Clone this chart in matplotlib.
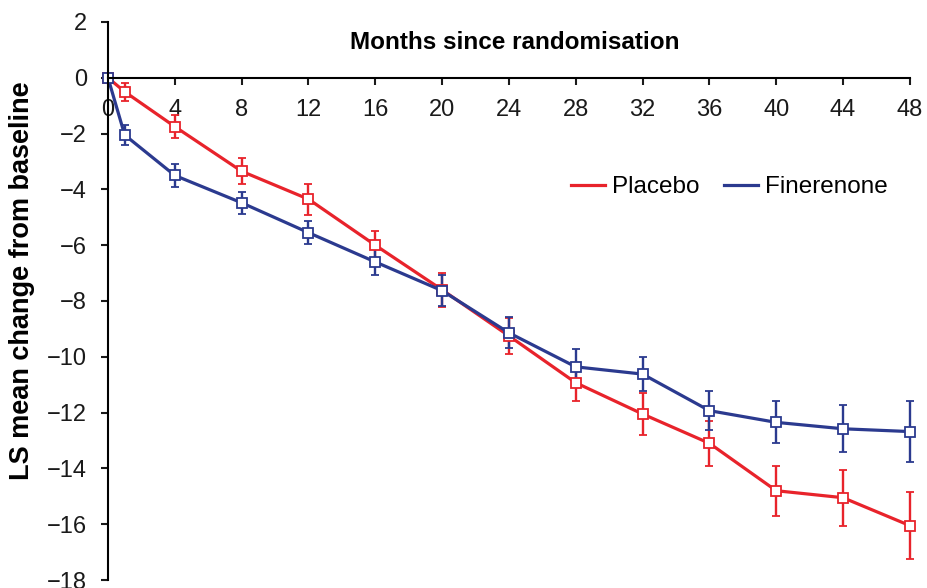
import matplotlib
import matplotlib.pyplot as plt
from matplotlib.lines import Line2D

matplotlib.use('Agg')

plt.rcParams['font.family'] = ['Liberation Sans', 'DejaVu Sans']

months = [0, 1, 4, 8, 12, 16, 20, 24, 28, 32, 36, 40, 44, 48]
placebo = [0, -0.5, -1.75, -3.35, -4.35, -6.0, -7.6, -9.25, -10.93, -12.05, -13.1, -14.8, -15.05, -16.05]
placebo_err = [0, 0.33, 0.4, 0.47, 0.55, 0.5, 0.6, 0.65, 0.65, 0.75, 0.8, 0.9, 1.0, 1.2]
finerenone = [0, -2.05, -3.5, -4.48, -5.55, -6.6, -7.63, -9.14, -10.36, -10.62, -11.93, -12.35, -12.58, -12.68]
finerenone_err = [0, 0.36, 0.4, 0.4, 0.42, 0.47, 0.55, 0.55, 0.65, 0.62, 0.7, 0.75, 0.85, 1.1]

RED = '#E8232B'
BLUE = '#2B3A8F'

fig = plt.figure(figsize=(9.27, 5.88), dpi=100)
ax = fig.add_axes([0.1165, 0.0136, 0.865, 0.949])

for values, errs, color in [(placebo, placebo_err, RED), (finerenone, finerenone_err, BLUE)]:
    bars = ax.errorbar(months, values, yerr=errs, color=color, linewidth=2.3,
                       elinewidth=1.7, capsize=3, capthick=1.7,
                       marker='s', markersize=7.5, markerfacecolor='white',
                       markeredgecolor=color, markeredgewidth=1.3)
    for artist in bars.get_children():
        artist.set_clip_on(False)

ax.set_xlim(0, 48)
ax.set_ylim(-18, 2)
ax.set_xticks(range(0, 49, 4))
ax.set_yticks(range(-18, 3, 2))
ax.spines['top'].set_visible(False)
ax.spines['right'].set_visible(False)
ax.spines['bottom'].set_position(('data', 0))
for side in ('left', 'bottom'):
    ax.spines[side].set_linewidth(1.5)
ax.tick_params(axis='both', labelsize=17, width=1.5, length=5, colors='#1a1a1a')
ax.tick_params(axis='x', pad=10)
ax.tick_params(axis='y', pad=10)

fig.text(0.555, 0.928, 'Months since randomisation', ha='center', va='center',
         fontsize=17.5, fontweight='bold')
fig.text(22 / 927, 1 - 281 / 588, 'LS mean change from baseline', ha='center', va='center',
         rotation=90, fontsize=19.5, fontweight='bold')

handles = [Line2D([], [], color=RED, linewidth=2.3), Line2D([], [], color=BLUE, linewidth=2.3)]
ax.legend(handles, ['Placebo', 'Finerenone'], loc='center', bbox_to_anchor=(0.775, 0.704), ncol=2,
          frameon=False, fontsize=17.5, handlelength=1.4, handletextpad=0.3, columnspacing=1.0)

fig.savefig('out.png', dpi=100)
